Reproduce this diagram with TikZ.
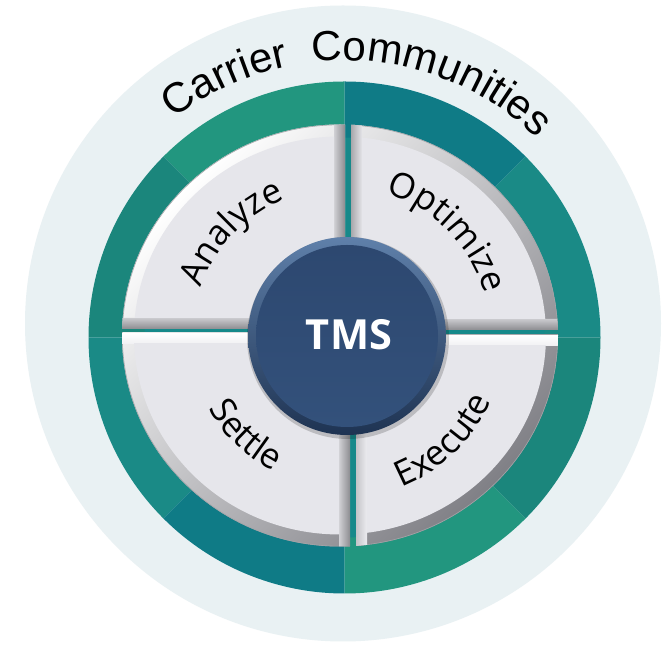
\documentclass[tikz,border=0pt]{standalone}
\usepackage{fontspec}
\usetikzlibrary{decorations.text}
\newfontfamily\opensans{Open Sans}
\newfontfamily\arialf{Liberation Sans}
\definecolor{bgcirc}{HTML}{E9F1F3}
\definecolor{ringA}{HTML}{22967F}
\definecolor{ringB}{HTML}{1B867C}
\definecolor{ringC}{HTML}{1A8A86}
\definecolor{ringD}{HTML}{0F7B86}
\definecolor{gapteal}{HTML}{16898A}
\definecolor{quadface}{HTML}{E6E6EB}
\definecolor{bevelline}{HTML}{A4A4A8}
\definecolor{tmsrimtop}{HTML}{5F80AA}
\definecolor{tmsrimbot}{HTML}{1E3352}
\definecolor{tmsfacetop}{HTML}{2D4870}
\definecolor{tmsfacebot}{HTML}{33517B}
\definecolor{gDADADE}{HTML}{DADADE}
\definecolor{g808086}{HTML}{808086}
\definecolor{gD0D0D4}{HTML}{D0D0D4}
\definecolor{g8C8C90}{HTML}{8C8C90}
\definecolor{gA8A8AC}{HTML}{A8A8AC}
\definecolor{gE4E4E8}{HTML}{E4E4E8}
\definecolor{gC4C4C8}{HTML}{C4C4C8}
\definecolor{gECECF0}{HTML}{ECECF0}
\definecolor{gCACACE}{HTML}{CACACE}
\definecolor{gF0F0F3}{HTML}{F0F0F3}
\tikzset{
  arcbevel/.style={top color=white, middle color=gDADADE, bottom color=g808086, shading angle=45},
  darkV/.style={left color=gD0D0D4, right color=g8C8C90},
  lightV/.style={left color=gA8A8AC, right color=gE4E4E8},
  lightVb/.style={left color=gC4C4C8, right color=gECECF0},
  darkH/.style={top color=gCACACE, bottom color=g8C8C90},
  lightH/.style={top color=white, bottom color=gF0F0F3},
}
% quadrant: #1 cx, #2 cy, #3 sx, #4 sy, #5 vertical strip style, #6 horizontal strip style
\newcommand\myquad[6]{%
\begin{scope}
  \clip (#1,#2) rectangle ({#1+#3*300},{#2+#4*300});
  \clip (340,309.5) ellipse [x radius=218pt, y radius=211pt];
  \shade[arcbevel] (340,309.5) ellipse [x radius=218pt, y radius=211pt];
  \draw[bevelline, line width=1.2pt] (340,309.5) ellipse [x radius=218pt, y radius=211pt];
  \shade[#5] (#1,#2) -- ({#1+#3*11},{#2+#4*11}) -- ({#1+#3*11},{#2+#4*300}) -- (#1,{#2+#4*300}) -- cycle;
  \shade[#6] (#1,#2) -- ({#1+#3*11},{#2+#4*11}) -- ({#1+#3*300},{#2+#4*11}) -- ({#1+#3*300},#2) -- cycle;
  \begin{scope}
    \clip ({#1+#3*11},{#2+#4*11}) rectangle ({#1+#3*300},{#2+#4*300});
    \fill[quadface] (340,309.5) ellipse [x radius=206pt, y radius=199pt];
  \end{scope}
\end{scope}}
\newcommand\labfont{\opensans\fontsize{35}{38}\selectfont}
\newcommand\ccfont{\arialf\fontsize{42}{44}\selectfont}
\begin{document}
\begin{tikzpicture}[x=1pt,y=1pt]
\useasboundingbox (0,0) rectangle (662,645);
\fill[white] (0,0) rectangle (662,645);
% outer light circle
\fill[bgcirc] (343,321.5) circle[radius=318pt];
% ring wedges
\begin{scope}[shift={(344.5,307.5)}]
  \fill[ringA] (0,0) -- (90:256pt) arc[start angle=90, end angle=135, radius=256pt] -- cycle;
  \fill[ringB] (0,0) -- (135:256pt) arc[start angle=135, end angle=180, radius=256pt] -- cycle;
  \fill[ringC] (0,0) -- (180:256pt) arc[start angle=180, end angle=225, radius=256pt] -- cycle;
  \fill[ringD] (0,0) -- (225:256pt) arc[start angle=225, end angle=270, radius=256pt] -- cycle;
  \fill[ringA] (0,0) -- (270:256pt) arc[start angle=270, end angle=315, radius=256pt] -- cycle;
  \fill[ringB] (0,0) -- (315:256pt) arc[start angle=315, end angle=360, radius=256pt] -- cycle;
  \fill[ringC] (0,0) -- (0:256pt) arc[start angle=0, end angle=45, radius=256pt] -- cycle;
  \fill[ringD] (0,0) -- (45:256pt) arc[start angle=45, end angle=90, radius=256pt] -- cycle;
  \fill[gapteal] (0,0) circle[radius=200pt];
\end{scope}
% quadrants
\myquad{345}{316}{-1}{1}{darkV}{darkH}
\myquad{351}{315}{1}{1}{lightV}{darkH}
\myquad{350}{312}{-1}{-1}{darkV}{lightH}
\myquad{356}{310}{1}{-1}{lightVb}{lightH}
% TMS hub
\fill[black, opacity=0.18] (348,307) circle[radius=101pt];
\shade[top color=tmsrimtop, bottom color=tmsrimbot] (347,309) circle[radius=99pt];
\shade[top color=tmsfacetop, bottom color=tmsfacebot] (347,309) circle[radius=91pt];
\node[font=\opensans\bfseries\fontsize{41.5}{42}\selectfont, text=white, anchor=base] (tms) at (349,295) {TMS};
% quadrant labels
\path[decorate, decoration={text along path, text={|\labfont|Analyze}, text align=center}, shift={(341,309)}]
  (186.6:148pt) arc[start angle=186.6, end angle=86.6, radius=148pt];
\path[decorate, decoration={text along path, text={|\labfont|Optimize}, text align=center}, shift={(341,309)}]
  (94.5:150pt) arc[start angle=94.5, end angle=-5.5, radius=150pt];
\path[decorate, decoration={text along path, text={|\labfont|Settle}, text align=center}, shift={(341,309)}]
  (176.2:151pt) arc[start angle=176.2, end angle=276.2, radius=151pt];
\path[decorate, decoration={text along path, text={|\labfont|Execute}, text align=center}, shift={(341,309)}]
  (264.2:163pt) arc[start angle=264.2, end angle=364.2, radius=163pt];
% outer label
\path[decorate, decoration={text along path, text={|\ccfont|Carrier{\ }{\ }Communities}, text align=center}, shift={(344.5,307.5)}]
  (167:277pt) arc[start angle=167, end angle=7, radius=277pt];
\end{tikzpicture}
\end{document}
